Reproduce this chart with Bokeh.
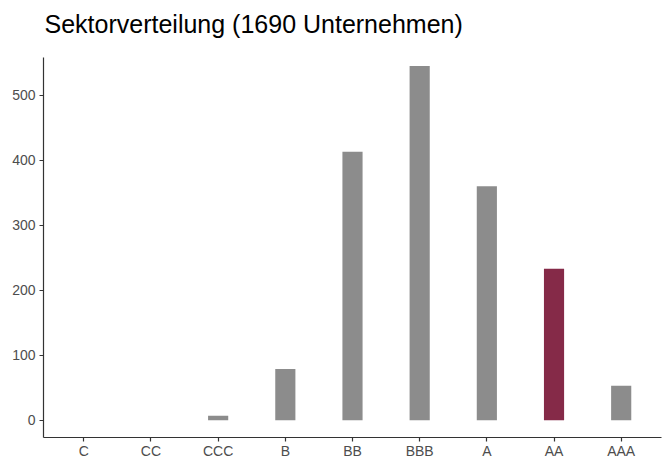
from bokeh.plotting import figure
from bokeh.models import ColumnDataSource, FactorRange, Range1d, FixedTicker, Label
from bokeh.embed import file_html
from bokeh.resources import INLINE

ratings = ["C", "CC", "CCC", "B", "BB", "BBB", "A", "AA", "AAA"]
counts = [0, 0, 7, 79, 413, 545, 360, 233, 53]
highlight = "AA"
y_ticks = [0, 100, 200, 300, 400, 500]
title_text = "Sektorverteilung (1690 Unternehmen)"

colors = ["#852A48" if r == highlight else "#8C8C8C" for r in ratings]
src = ColumnDataSource(dict(x=ratings, top=counts, color=colors))

p = figure(
    width=667, height=461,
    x_range=FactorRange(factors=ratings, range_padding=0.1, range_padding_units="absolute"),
    y_range=Range1d(-26.5, 558),
    output_backend="svg", toolbar_location=None, tools="",
    min_border_left=43, min_border_right=6, min_border_top=57, min_border_bottom=22,
)
p.vbar(x="x", top="top", bottom=0, width=0.3, color="color", line_color=None, source=src)

# title drawn as a label in the top border
p.add_layout(Label(
    x=1, y=34, x_units="screen", y_units="screen",
    text=title_text, text_font="Liberation Sans", text_font_size="25px",
    text_color="#000000", text_baseline="alphabetic", text_align="left",
), "above")

p.outline_line_color = None
p.xgrid.grid_line_color = None
p.ygrid.grid_line_color = None
p.background_fill_color = "white"
p.border_fill_color = "white"

for ax in (p.xaxis[0], p.yaxis[0]):
    ax.axis_line_color = "#333333"
    ax.axis_line_width = 1.2
    ax.major_tick_line_color = "#333333"
    ax.major_tick_line_width = 1.2
    ax.major_tick_out = 4
    ax.major_tick_in = 0
    ax.minor_tick_line_color = None
    ax.major_label_text_font = "Liberation Sans"
    ax.major_label_text_font_size = "14px"
    ax.major_label_text_color = "#4D4D4D"

p.yaxis[0].ticker = FixedTicker(ticks=y_ticks)
p.yaxis[0].major_label_standoff = 4
p.xaxis[0].major_label_standoff = 1

open("out.html", "w").write(file_html(p, INLINE))
